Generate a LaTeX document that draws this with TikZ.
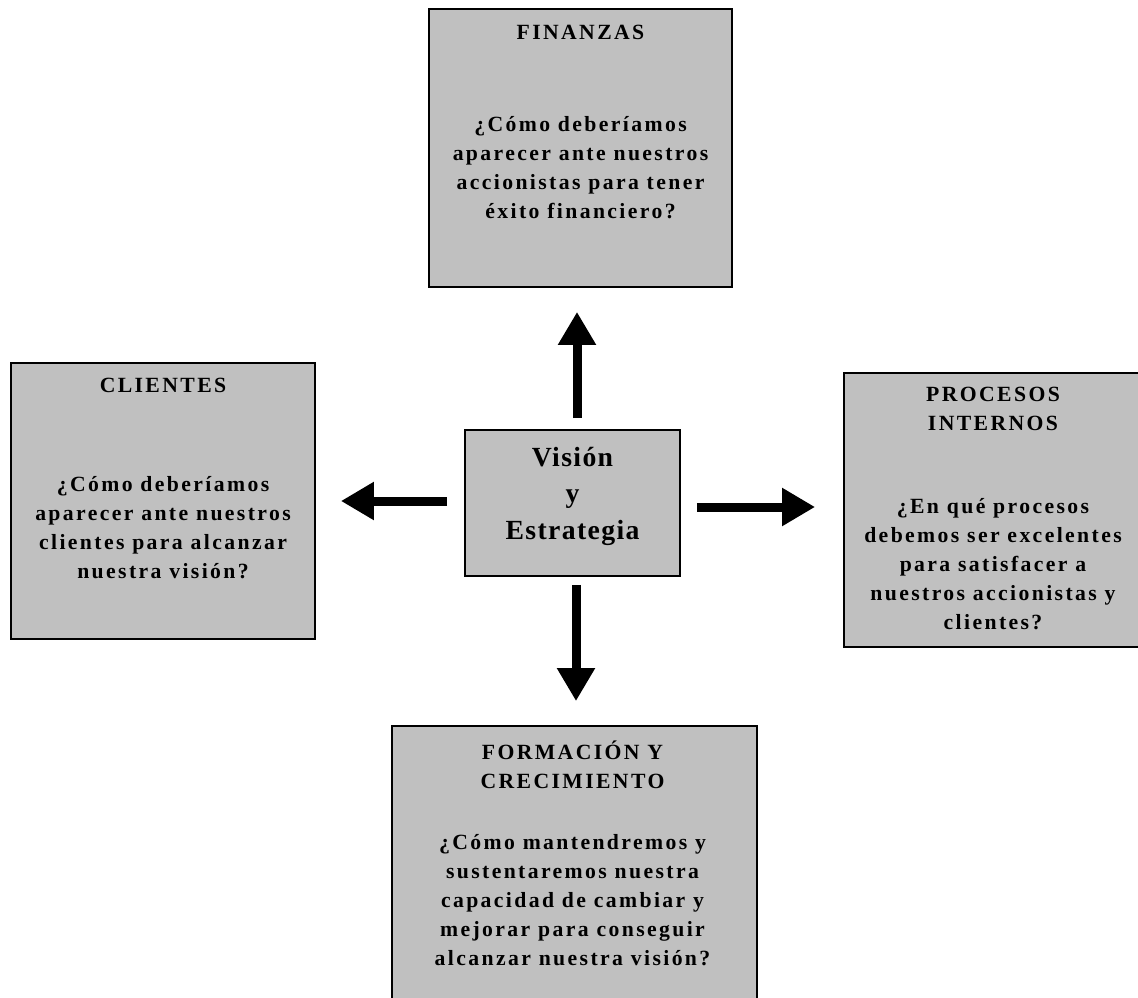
\documentclass[tikz,border=0pt]{standalone}
\usepackage{fontspec}
\setmainfont{Liberation Serif}
\newfontfamily\boxfont[LetterSpace=11]{Liberation Serif}
\newfontfamily\visfont[LetterSpace=5]{Liberation Serif}
\usetikzlibrary{arrows.meta,positioning}

\begin{document}
\begin{tikzpicture}[x=1pt, y=-1pt,
    persp/.style={draw=black, line width=1.8pt, fill=perspgray, inner sep=0pt},
    persptext/.style={anchor=base, align=center, inner sep=0pt,
        font={\boxfont\bfseries\fontsize{21.7}{29}\selectfont}},
    vistext/.style={anchor=base, align=center, inner sep=0pt,
        font={\visfont\bfseries\fontsize{27.7}{36.5}\selectfont}},
    bigarrow/.style={line width=9pt, -{Triangle[length=33pt, width=36pt]}}]

        % Define colors
        \definecolor{perspgray}{RGB}{192, 192, 192}

        % Page frame
        \useasboundingbox (0,0) rectangle (1138,998);

        % The four perspectives and the centre
        \node[persp, minimum width=303pt, minimum height=278pt] (fin) at (580.5,148) {};
        \node[persp, minimum width=304pt, minimum height=276pt] (cli) at (163,501) {};
        \node[persp, minimum width=298pt, minimum height=274pt] (pro) at (993,510) {};
        \node[persp, minimum width=365pt, minimum height=279pt] (for) at (574.5,865.5) {};
        \node[persp, minimum width=215pt, minimum height=146pt] (vis) at (572.5,503) {};

        % Texts in the boxes (placed by the baseline of their last line)
        \node[persptext] (fintxt) at ([yshift=-210pt]fin.north)
            {FINANZAS\\[63pt]¿Cómo deberíamos\\aparecer ante nuestros\\accionistas para tener\\éxito financiero?};
        \node[persptext] (clitxt) at ([yshift=-216pt]cli.north)
            {CLIENTES\\[70pt]¿Cómo deberíamos\\aparecer ante nuestros\\clientes para alcanzar\\nuestra visión?};
        \node[persptext] (protxt) at ([yshift=-257pt]pro.north)
            {PROCESOS\\INTERNOS\\[54pt]¿En qué procesos\\debemos ser excelentes\\para satisfacer a\\nuestros accionistas y\\clientes?};
        \node[persptext] (fortxt) at ([xshift=-2pt, yshift=-240pt]for.north)
            {FORMACIÓN Y\\CRECIMIENTO\\[32pt]¿Cómo mantendremos y\\sustentaremos nuestra\\capacidad de cambiar y\\mejorar para conseguir\\alcanzar nuestra visión?};
        \node[vistext] (vistxt) at ([yshift=-110pt]vis.north) {Visión\\y\\Estrategia};

        % Arrows out of the centre
        \draw[bigarrow, shorten <=11pt, shorten >=24pt] ([xshift=4.5pt]vis.north) -- ([xshift=4.5pt]vis.north |- fin.south);
        \draw[bigarrow, shorten <=17pt, shorten >=25pt] ([yshift=2pt]vis.west) -- ([yshift=2pt]vis.west -| cli.east);
        \draw[bigarrow, shorten <=16pt, shorten >=28pt] ([yshift=-4pt]vis.east) -- ([yshift=-4pt]vis.east -| pro.west);
        \draw[bigarrow, shorten <=8pt, shorten >=24pt] ([xshift=3.5pt]vis.south) -- ([xshift=3.5pt]vis.south |- for.north);

    \end{tikzpicture}
\end{document}
